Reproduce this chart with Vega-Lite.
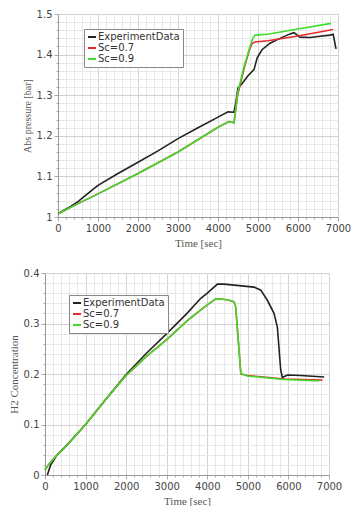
{
  "$schema": "https://vega.github.io/schema/vega-lite/v6.json",
  "padding": {"left": 8, "top": 9, "right": 0, "bottom": 0},
  "background": "white",
  "config": {
    "view": {"stroke": null},
    "axis": {
      "labelFont": "DejaVu Sans", "labelFontSize": 10, "labelColor": "#444",
      "titleFont": "Liberation Serif", "titleFontSize": 11, "titleFontWeight": "normal", "titleColor": "#555",
      "domainColor": "#999", "tickColor": "#aaa", "labelOverlap": false, "labelFlush": false,
      "labelPadding": 2, "titlePadding": 4
    },
    "legend": {
      "strokeColor": "#888", "fillColor": "white", "padding": 3, "symbolType": "stroke",
      "symbolSize": 64, "symbolStrokeWidth": 2, "labelFont": "DejaVu Sans", "labelFontSize": 10,
      "labelColor": "#333", "rowPadding": 1, "labelOffset": 1, "cornerRadius": 0
    }
  },
  "datasets": {
    "pressure": [
      {"series": "ExperimentData", "t": 0, "v": 1.008},
      {"series": "ExperimentData", "t": 250, "v": 1.022},
      {"series": "ExperimentData", "t": 500, "v": 1.038},
      {"series": "ExperimentData", "t": 750, "v": 1.058},
      {"series": "ExperimentData", "t": 1000, "v": 1.078},
      {"series": "ExperimentData", "t": 1500, "v": 1.107},
      {"series": "ExperimentData", "t": 2000, "v": 1.135},
      {"series": "ExperimentData", "t": 2500, "v": 1.163},
      {"series": "ExperimentData", "t": 3000, "v": 1.193},
      {"series": "ExperimentData", "t": 3500, "v": 1.22},
      {"series": "ExperimentData", "t": 4000, "v": 1.246},
      {"series": "ExperimentData", "t": 4250, "v": 1.259},
      {"series": "ExperimentData", "t": 4400, "v": 1.258},
      {"series": "ExperimentData", "t": 4450, "v": 1.285},
      {"series": "ExperimentData", "t": 4500, "v": 1.318},
      {"series": "ExperimentData", "t": 4600, "v": 1.328},
      {"series": "ExperimentData", "t": 4750, "v": 1.348},
      {"series": "ExperimentData", "t": 4900, "v": 1.363},
      {"series": "ExperimentData", "t": 4980, "v": 1.392},
      {"series": "ExperimentData", "t": 5100, "v": 1.412},
      {"series": "ExperimentData", "t": 5300, "v": 1.428},
      {"series": "ExperimentData", "t": 5550, "v": 1.44},
      {"series": "ExperimentData", "t": 5800, "v": 1.451},
      {"series": "ExperimentData", "t": 5900, "v": 1.454},
      {"series": "ExperimentData", "t": 6050, "v": 1.443},
      {"series": "ExperimentData", "t": 6300, "v": 1.442},
      {"series": "ExperimentData", "t": 6550, "v": 1.445},
      {"series": "ExperimentData", "t": 6800, "v": 1.448},
      {"series": "ExperimentData", "t": 6880, "v": 1.45},
      {"series": "ExperimentData", "t": 6950, "v": 1.414},
      {"series": "Sc=0.7", "t": 0, "v": 1.008},
      {"series": "Sc=0.7", "t": 500, "v": 1.033},
      {"series": "Sc=0.7", "t": 1000, "v": 1.057},
      {"series": "Sc=0.7", "t": 2000, "v": 1.107},
      {"series": "Sc=0.7", "t": 3000, "v": 1.16},
      {"series": "Sc=0.7", "t": 4000, "v": 1.221},
      {"series": "Sc=0.7", "t": 4275, "v": 1.235},
      {"series": "Sc=0.7", "t": 4400, "v": 1.232},
      {"series": "Sc=0.7", "t": 4490, "v": 1.3},
      {"series": "Sc=0.7", "t": 4650, "v": 1.365},
      {"series": "Sc=0.7", "t": 4780, "v": 1.41},
      {"series": "Sc=0.7", "t": 4850, "v": 1.427},
      {"series": "Sc=0.7", "t": 4920, "v": 1.431},
      {"series": "Sc=0.7", "t": 5250, "v": 1.434},
      {"series": "Sc=0.7", "t": 6000, "v": 1.446},
      {"series": "Sc=0.7", "t": 6880, "v": 1.462},
      {"series": "Sc=0.9", "t": 0, "v": 1.008},
      {"series": "Sc=0.9", "t": 500, "v": 1.033},
      {"series": "Sc=0.9", "t": 1000, "v": 1.057},
      {"series": "Sc=0.9", "t": 2000, "v": 1.107},
      {"series": "Sc=0.9", "t": 3000, "v": 1.16},
      {"series": "Sc=0.9", "t": 4000, "v": 1.221},
      {"series": "Sc=0.9", "t": 4275, "v": 1.235},
      {"series": "Sc=0.9", "t": 4400, "v": 1.232},
      {"series": "Sc=0.9", "t": 4490, "v": 1.305},
      {"series": "Sc=0.9", "t": 4650, "v": 1.37},
      {"series": "Sc=0.9", "t": 4800, "v": 1.42},
      {"series": "Sc=0.9", "t": 4870, "v": 1.44},
      {"series": "Sc=0.9", "t": 4930, "v": 1.448},
      {"series": "Sc=0.9", "t": 5240, "v": 1.45},
      {"series": "Sc=0.9", "t": 6000, "v": 1.463},
      {"series": "Sc=0.9", "t": 6825, "v": 1.477}
    ],
    "h2": [
      {"series": "ExperimentData", "t": 58, "v": 0},
      {"series": "ExperimentData", "t": 140, "v": 0.02},
      {"series": "ExperimentData", "t": 300, "v": 0.04},
      {"series": "ExperimentData", "t": 500, "v": 0.056},
      {"series": "ExperimentData", "t": 1000, "v": 0.1},
      {"series": "ExperimentData", "t": 1500, "v": 0.15},
      {"series": "ExperimentData", "t": 2000, "v": 0.199},
      {"series": "ExperimentData", "t": 2500, "v": 0.241},
      {"series": "ExperimentData", "t": 3000, "v": 0.28},
      {"series": "ExperimentData", "t": 3500, "v": 0.32},
      {"series": "ExperimentData", "t": 3840, "v": 0.35},
      {"series": "ExperimentData", "t": 4000, "v": 0.36},
      {"series": "ExperimentData", "t": 4250, "v": 0.378},
      {"series": "ExperimentData", "t": 4410, "v": 0.378},
      {"series": "ExperimentData", "t": 4660, "v": 0.376},
      {"series": "ExperimentData", "t": 5150, "v": 0.372},
      {"series": "ExperimentData", "t": 5320, "v": 0.366},
      {"series": "ExperimentData", "t": 5480, "v": 0.346},
      {"series": "ExperimentData", "t": 5645, "v": 0.32},
      {"series": "ExperimentData", "t": 5727, "v": 0.293},
      {"series": "ExperimentData", "t": 5810, "v": 0.208},
      {"series": "ExperimentData", "t": 5850, "v": 0.193},
      {"series": "ExperimentData", "t": 5975, "v": 0.198},
      {"series": "ExperimentData", "t": 6300, "v": 0.197},
      {"series": "ExperimentData", "t": 6880, "v": 0.194},
      {"series": "Sc=0.7", "t": 0, "v": 0.01},
      {"series": "Sc=0.7", "t": 100, "v": 0.022},
      {"series": "Sc=0.7", "t": 300, "v": 0.04},
      {"series": "Sc=0.7", "t": 500, "v": 0.055},
      {"series": "Sc=0.7", "t": 1000, "v": 0.1},
      {"series": "Sc=0.7", "t": 1500, "v": 0.15},
      {"series": "Sc=0.7", "t": 2000, "v": 0.197},
      {"series": "Sc=0.7", "t": 2500, "v": 0.235},
      {"series": "Sc=0.7", "t": 3000, "v": 0.268},
      {"series": "Sc=0.7", "t": 3500, "v": 0.305},
      {"series": "Sc=0.7", "t": 3840, "v": 0.327},
      {"series": "Sc=0.7", "t": 4000, "v": 0.337},
      {"series": "Sc=0.7", "t": 4210, "v": 0.349},
      {"series": "Sc=0.7", "t": 4500, "v": 0.347},
      {"series": "Sc=0.7", "t": 4660, "v": 0.343},
      {"series": "Sc=0.7", "t": 4700, "v": 0.333},
      {"series": "Sc=0.7", "t": 4750, "v": 0.28},
      {"series": "Sc=0.7", "t": 4830, "v": 0.2},
      {"series": "Sc=0.7", "t": 4990, "v": 0.197},
      {"series": "Sc=0.7", "t": 5900, "v": 0.19},
      {"series": "Sc=0.7", "t": 6840, "v": 0.188},
      {"series": "Sc=0.9", "t": 0, "v": 0.01},
      {"series": "Sc=0.9", "t": 100, "v": 0.022},
      {"series": "Sc=0.9", "t": 300, "v": 0.04},
      {"series": "Sc=0.9", "t": 500, "v": 0.055},
      {"series": "Sc=0.9", "t": 1000, "v": 0.1},
      {"series": "Sc=0.9", "t": 1500, "v": 0.15},
      {"series": "Sc=0.9", "t": 2000, "v": 0.197},
      {"series": "Sc=0.9", "t": 2500, "v": 0.235},
      {"series": "Sc=0.9", "t": 3000, "v": 0.268},
      {"series": "Sc=0.9", "t": 3500, "v": 0.305},
      {"series": "Sc=0.9", "t": 3840, "v": 0.327},
      {"series": "Sc=0.9", "t": 4000, "v": 0.337},
      {"series": "Sc=0.9", "t": 4210, "v": 0.349},
      {"series": "Sc=0.9", "t": 4500, "v": 0.347},
      {"series": "Sc=0.9", "t": 4660, "v": 0.343},
      {"series": "Sc=0.9", "t": 4700, "v": 0.333},
      {"series": "Sc=0.9", "t": 4745, "v": 0.287},
      {"series": "Sc=0.9", "t": 4825, "v": 0.201},
      {"series": "Sc=0.9", "t": 4990, "v": 0.196},
      {"series": "Sc=0.9", "t": 5900, "v": 0.189},
      {"series": "Sc=0.9", "t": 6760, "v": 0.186}
    ]
  },
  "spacing": 20,
  "resolve": {"scale": {"color": "independent"}, "legend": {"color": "independent"}},
  "vconcat": [
    {
      "width": 293,
      "height": 203,
      "data": {"name": "pressure"},
      "mark": {"type": "line", "strokeWidth": 1.6},
      "encoding": {
        "x": {
          "field": "t", "type": "quantitative",
          "scale": {"domain": [0, 7000], "range": [13, 293], "nice": false},
          "axis": {
            "title": "Time [sec]",
            "titleFontWeight": "normal",
            "format": "d",
            "values": [0,200,400,600,800,1000,1200,1400,1600,1800,2000,2200,2400,2600,2800,3000,3200,3400,3600,3800,4000,4200,4400,4600,4800,5000,5200,5400,5600,5800,6000,6200,6400,6600,6800,7000],
            "labelExpr": "datum.value % 1000 === 0 ? datum.label : ''",
            "gridColor": {"condition": {"test": "datum.value % 1000 === 0", "value": "#d2d2d2"}, "value": "#e8e8e8"},
            "tickSize": {"condition": {"test": "datum.value % 1000 === 0", "value": 4}, "value": 2}
          }
        },
        "y": {
          "field": "v", "type": "quantitative",
          "scale": {"domain": [1, 1.5], "nice": false, "zero": false},
          "axis": {
            "title": "Abs pressure [bar]",
            "titleFontWeight": "normal",
            "titleFontSize": 10,
            "offset": -13,
            "format": ".2~f",
            "values": [1,1.02,1.04,1.06,1.08,1.1,1.12,1.14,1.16,1.18,1.2,1.22,1.24,1.26,1.28,1.3,1.32,1.34,1.36,1.38,1.4,1.42,1.44,1.46,1.48,1.5],
            "labelExpr": "abs(datum.value*10 - round(datum.value*10)) < 0.001 ? datum.label : ''",
            "gridColor": {"condition": {"test": "abs(datum.value*10 - round(datum.value*10)) < 0.001", "value": "#d2d2d2"}, "value": "#e8e8e8"},
            "tickSize": {"condition": {"test": "abs(datum.value*10 - round(datum.value*10)) < 0.001", "value": 4}, "value": 2}
          }
        },
        "color": {
          "field": "series", "type": "nominal",
          "scale": {"domain": ["ExperimentData", "Sc=0.7", "Sc=0.9"], "range": ["#222222", "#e52b2b", "#3fdc2c"]},
          "legend": {"title": null, "orient": "none", "legendX": 39, "legendY": 15}
        }
      }
    },
    {
      "width": 284,
      "height": 202,
      "data": {"name": "h2"},
      "mark": {"type": "line", "strokeWidth": 1.6},
      "encoding": {
        "x": {
          "field": "t", "type": "quantitative",
          "scale": {"domain": [0, 7000], "nice": false},
          "axis": {
            "title": "Time [sec]",
            "titleFontWeight": "normal",
            "format": "d",
            "values": [0,200,400,600,800,1000,1200,1400,1600,1800,2000,2200,2400,2600,2800,3000,3200,3400,3600,3800,4000,4200,4400,4600,4800,5000,5200,5400,5600,5800,6000,6200,6400,6600,6800,7000],
            "labelExpr": "datum.value % 1000 === 0 ? datum.label : ''",
            "gridColor": {"condition": {"test": "datum.value % 1000 === 0", "value": "#d2d2d2"}, "value": "#e8e8e8"},
            "tickSize": {"condition": {"test": "datum.value % 1000 === 0", "value": 4}, "value": 2}
          }
        },
        "y": {
          "field": "v", "type": "quantitative",
          "scale": {"domain": [0, 0.4], "nice": false},
          "axis": {
            "title": "H2 Concentration",
            "titleFontWeight": "normal",
            "format": ".2~f",
            "values": [0,0.02,0.04,0.06,0.08,0.1,0.12,0.14,0.16,0.18,0.2,0.22,0.24,0.26,0.28,0.3,0.32,0.34,0.36,0.38,0.4],
            "labelExpr": "abs(datum.value*10 - round(datum.value*10)) < 0.001 ? datum.label : ''",
            "gridColor": {"condition": {"test": "abs(datum.value*10 - round(datum.value*10)) < 0.001", "value": "#d2d2d2"}, "value": "#e8e8e8"},
            "tickSize": {"condition": {"test": "abs(datum.value*10 - round(datum.value*10)) < 0.001", "value": 4}, "value": 2}
          }
        },
        "color": {
          "field": "series", "type": "nominal",
          "scale": {"domain": ["ExperimentData", "Sc=0.7", "Sc=0.9"], "range": ["#222222", "#e52b2b", "#3fdc2c"]},
          "legend": {"title": null, "orient": "none", "legendX": 24, "legendY": 22}
        }
      }
    }
  ]
}
